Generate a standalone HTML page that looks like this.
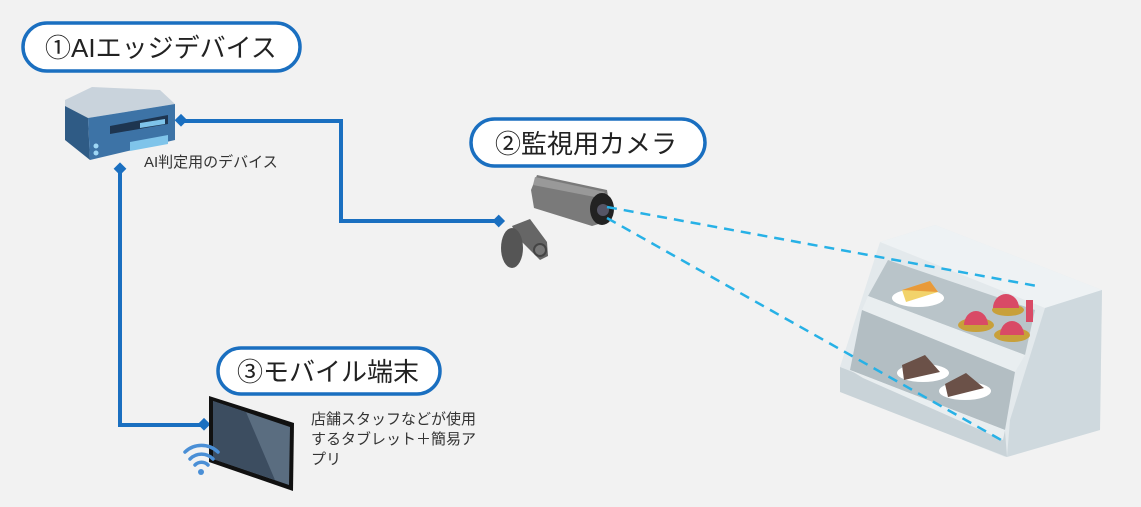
<!DOCTYPE html>
<html><head><meta charset="utf-8"><style>
html,body{margin:0;padding:0;background:#f2f2f2;}
svg{display:block}
text{font-family:"Liberation Sans","Noto Sans CJK JP",sans-serif;}
</style></head><body>
<svg width="1141" height="507" viewBox="0 0 1141 507" xmlns="http://www.w3.org/2000/svg">
<rect width="1141" height="507" fill="#f2f2f2"/>
<g stroke="#1a6fc0" stroke-width="4" fill="none">
<polyline points="181,121 341,121 341,221 498,221"/>
<polyline points="120,168 120,425 204,425"/>
</g>
<g fill="#1a6fc0">
<rect x="176" y="116" width="9" height="9" transform="rotate(45 181 121)"/>
<rect x="494" y="216" width="9" height="9" transform="rotate(45 498 221)"/>
<rect x="116" y="164" width="9" height="9" transform="rotate(45 120 168)"/>
<rect x="199" y="420" width="9" height="9" transform="rotate(45 204 425)"/>
</g>
<g fill="#fff" stroke="#1a6fc0" stroke-width="3.5">
<rect x="23" y="23" width="277" height="48" rx="24"/>
<rect x="471" y="119" width="234" height="47" rx="23.5"/>
<rect x="218" y="348" width="222" height="46" rx="23"/>
</g>
<g fill="#222" font-size="26">
<text x="45" y="57">①AIエッジデバイス</text>
<text x="495" y="153">②監視用カメラ</text>
<text x="237" y="381">③モバイル端末</text>
</g>
<g fill="#333" font-size="15">
<text x="144" y="167">AI判定用のデバイス</text>
<text x="311" y="424">店舗スタッフなどが使用</text>
<text x="311" y="444">するタブレット＋簡易ア</text>
<text x="311" y="464">プリ</text>
</g>
<!-- server -->
<polygon points="65,100 92,87 160,90 175,104 88,118 65,106" fill="#c9d3dc"/>
<polygon points="65,106 88,118 90,160 65,140" fill="#2f5b85"/>
<polygon points="88,118 175,104 175,140 90,160" fill="#3d73a6"/>
<polygon points="110,126 168,115 168,124 110,134" fill="#1e3550"/>
<polygon points="140,123 165,119 165,124 140,128" fill="#7fc4ea"/>
<polygon points="130,142 168,135 168,144 130,151" fill="#7fc4ea"/>
<circle cx="96" cy="146" r="2.5" fill="#9fd7f5"/><circle cx="96" cy="153" r="2.5" fill="#9fd7f5"/>
<!-- camera -->
<polygon points="512,226 530,219 547,242 548,256 540,260 518,238" fill="#666"/>
<ellipse cx="512" cy="248" rx="11" ry="20" fill="#555"/>
<circle cx="540" cy="250" r="6" fill="#777" stroke="#444" stroke-width="2"/>
<polygon points="537,175 607,190 612,220 592,226 534,208 531,190" fill="#7a7a7a"/>
<polygon points="535,177 605,192 600,198 533,185" fill="#999"/>
<ellipse cx="602" cy="209" rx="12" ry="16" fill="#222"/>
<circle cx="603" cy="210" r="6" fill="#556"/>
<!-- display case -->
<polygon points="880,242 935,225 1102,290 1100,430 1005,457 840,390 840,367" fill="#e3e9ec"/>
<polygon points="880,242 935,225 1102,290 1045,308" fill="#eef2f4"/>
<polygon points="1045,308 1102,290 1100,430 1007,457 1010,420" fill="#cfd9de"/>
<polygon points="840,367 1005,431 1007,457 840,392" fill="#c9d3d8"/>
<polygon points="888,260 1035,310 1025,355 868,296" fill="#b9c4c9"/>
<polygon points="868,296 1025,355 1015,372 862,310" fill="#e9eef0"/>
<polygon points="862,310 1015,372 1005,430 850,370" fill="#b3bec3"/>
<polygon points="850,370 1005,430 1003,440 863,378" fill="#e9eef0"/>
<ellipse cx="918" cy="298" rx="26" ry="9" fill="#fff"/>
<polygon points="902,290 930,281 938,292 906,302" fill="#f2d36b"/>
<polygon points="902,290 930,281 938,292" fill="#e89a3a"/>
<ellipse cx="923" cy="373" rx="26" ry="9" fill="#fff"/>
<polygon points="902,365 925,355 940,372 904,380" fill="#6b5148"/>
<ellipse cx="965" cy="391" rx="26" ry="9" fill="#fff"/>
<polygon points="945,384 966,373 984,388 948,397" fill="#6b5148"/>
<g fill="#c8a03a"><ellipse cx="976" cy="325" rx="18" ry="7"/><ellipse cx="1012" cy="335" rx="18" ry="7"/><ellipse cx="1008" cy="310" rx="16" ry="6"/></g>
<g fill="#d94a66"><path d="M964 325 a12 14 0 0 1 24 0z"/><path d="M1000 335 a12 14 0 0 1 24 0z"/><path d="M993 308 a13 14 0 0 1 26 0z"/><rect x="1026" y="300" width="7" height="22"/></g>
<!-- dashed view lines (on top) -->
<g stroke="#27b1e6" stroke-width="2.5" stroke-dasharray="10,7" fill="none">
<line x1="607" y1="207" x2="1037" y2="286"/>
<line x1="607" y1="218" x2="1003" y2="441"/>
</g>
<!-- tablet -->
<polygon points="209,396 294,423 293,491 209,462" fill="#111"/>
<polygon points="213,401 290,427 289,485 213,459" fill="#5a6d80"/>
<polygon points="213,401 246,412 275,480 213,459" fill="#3c4d60"/>
<g stroke="#4a8fd6" stroke-width="3.5" fill="none" stroke-linecap="round">
<path d="M185 452 a24 24 0 0 1 33 0"/>
<path d="M190 459 a16 16 0 0 1 23 0"/>
<path d="M195 465 a9 9 0 0 1 13 0"/>
</g>
<circle cx="201" cy="472" r="3" fill="#4a8fd6"/>
</svg>
</body></html>
